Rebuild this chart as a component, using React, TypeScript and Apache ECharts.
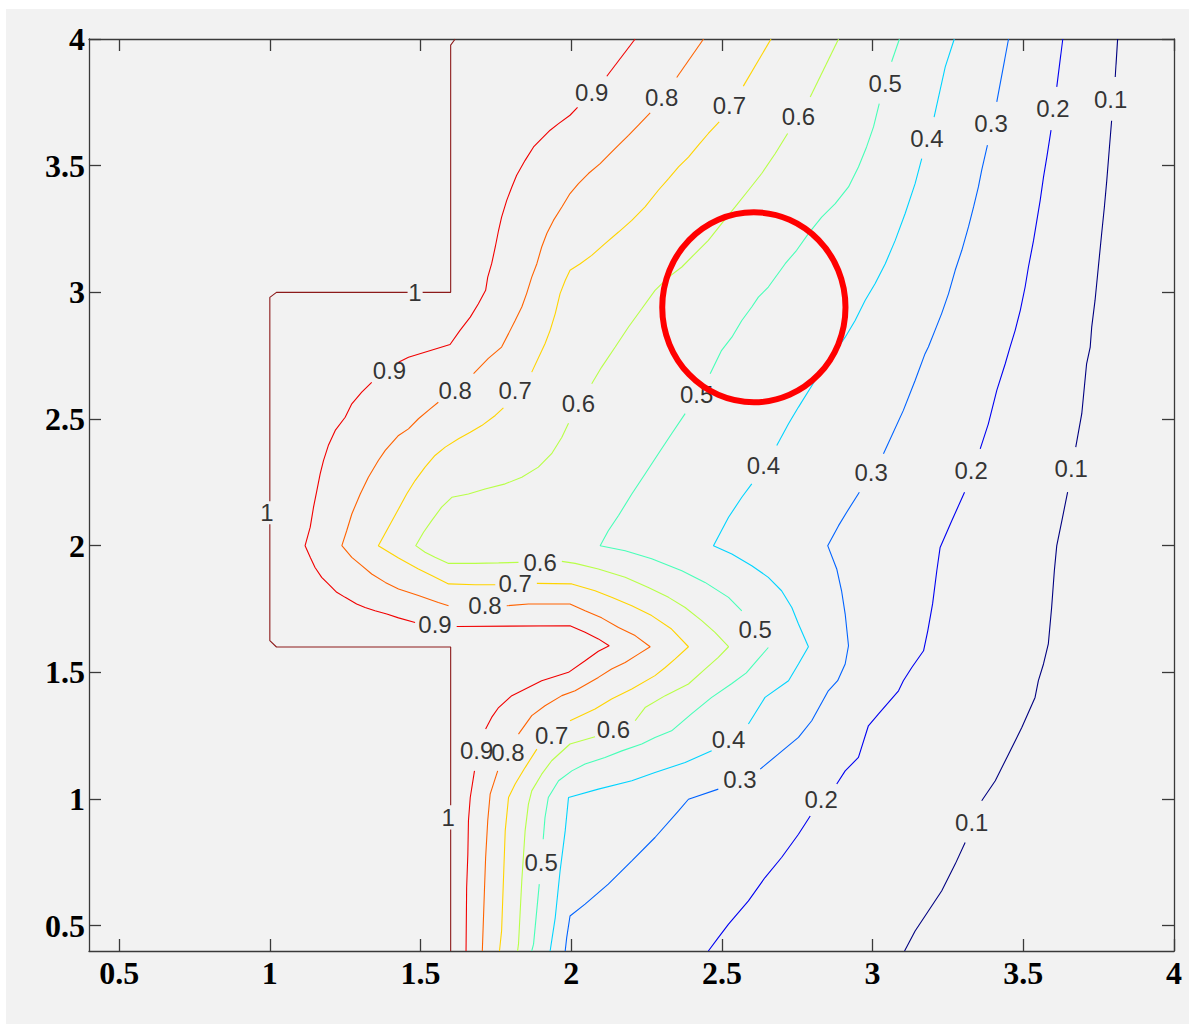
import React, { useEffect, useRef } from "react";
import * as echarts from "echarts";

// ---- axes ----
const xTicks = [0.5, 1, 1.5, 2, 2.5, 3, 3.5, 4];
const yTicks = [0.5, 1, 1.5, 2, 2.5, 3, 3.5, 4];
const axisMin = 0.4;
const axisMax = 4;

// ---- contour levels and jet colours ----
const levels = [0.1, 0.2, 0.3, 0.4, 0.5, 0.6, 0.7, 0.8, 0.9, 1];
const levelText = ["0.1", "0.2", "0.3", "0.4", "0.5", "0.6", "0.7", "0.8", "0.9", "1"];
const levelColors = ["#000080", "#0000f1", "#0063ff", "#00d4ff", "#47ffb8", "#b8ff47", "#ffd400", "#ff6300", "#f10000", "#8c1a1a"];

// ---- contour segments (x, y), broken where inline labels sit ----
const c100 = [
  [[1.615, 4.0], [1.6, 3.976], [1.6, 3.0], [1.507, 3.0]],
  [[1.457, 3.0], [1.022, 3.0], [1.0, 2.98], [1.0, 2.175]],
  [[1.0, 2.085], [1.0, 1.625], [1.022, 1.6], [1.6, 1.6], [1.6, 1.579], [1.6, 0.975]],
  [[1.6, 0.88], [1.6, 0.4]],
];
const c090 = [
  [[2.212, 4.0], [2.118, 3.853]],
  [[2.021, 3.73], [1.996, 3.699], [1.958, 3.666], [1.93, 3.64], [1.902, 3.607], [1.875, 3.574], [1.847, 3.521], [1.819, 3.462], [1.803, 3.416], [1.786, 3.363], [1.769, 3.297], [1.759, 3.245], [1.748, 3.179], [1.736, 3.113], [1.723, 3.06], [1.716, 3.008], [1.692, 2.955], [1.665, 2.902], [1.631, 2.85], [1.598, 2.794], [1.46, 2.744], [1.427, 2.724]],
  [[1.338, 2.645], [1.305, 2.606], [1.272, 2.56], [1.25, 2.507], [1.217, 2.455], [1.194, 2.395], [1.178, 2.336], [1.167, 2.283], [1.156, 2.217], [1.145, 2.152], [1.134, 2.073], [1.117, 2.0], [1.134, 1.954], [1.15, 1.914], [1.172, 1.875], [1.194, 1.849], [1.222, 1.816], [1.25, 1.796], [1.288, 1.77], [1.316, 1.756], [1.349, 1.743], [1.388, 1.73], [1.427, 1.715], [1.482, 1.697]],
  [[1.62, 1.681], [1.996, 1.684], [2.046, 1.658], [2.09, 1.632], [2.126, 1.605], [2.09, 1.583], [2.046, 1.546], [1.991, 1.5], [1.902, 1.467], [1.803, 1.408], [1.759, 1.361], [1.736, 1.322], [1.716, 1.276]],
  [[1.679, 1.111], [1.665, 1.006], [1.659, 0.914], [1.657, 0.782], [1.653, 0.65], [1.651, 0.4]],
];
const c080 = [
  [[2.439, 4.0], [2.35, 3.848]],
  [[2.262, 3.708], [2.223, 3.66], [2.19, 3.62], [2.157, 3.581], [2.123, 3.541], [2.096, 3.508], [2.057, 3.469], [2.024, 3.429], [1.996, 3.39], [1.969, 3.337], [1.941, 3.284], [1.919, 3.232], [1.902, 3.179], [1.886, 3.113], [1.869, 3.06], [1.852, 2.995], [1.836, 2.942], [1.814, 2.889], [1.792, 2.837], [1.769, 2.784], [1.725, 2.739], [1.676, 2.679]],
  [[1.559, 2.566], [1.532, 2.54], [1.493, 2.501], [1.46, 2.461], [1.427, 2.435], [1.383, 2.376], [1.36, 2.336], [1.327, 2.27], [1.3, 2.204], [1.272, 2.125], [1.255, 2.059], [1.239, 2.0], [1.272, 1.954], [1.305, 1.921], [1.338, 1.888], [1.383, 1.855], [1.427, 1.829], [1.493, 1.803], [1.559, 1.776], [1.593, 1.763]],
  [[1.786, 1.763], [1.858, 1.77], [1.996, 1.77], [2.046, 1.743], [2.101, 1.715], [2.157, 1.677], [2.212, 1.645], [2.262, 1.601], [2.223, 1.572], [2.179, 1.539], [2.134, 1.513], [2.09, 1.48], [2.013, 1.427], [1.969, 1.408], [1.913, 1.368], [1.869, 1.329], [1.825, 1.256]],
  [[1.756, 1.111], [1.731, 1.019], [1.723, 0.914], [1.716, 0.769], [1.712, 0.637], [1.705, 0.4]],
];
const c070 = [
  [[2.663, 4.0], [2.571, 3.814]],
  [[2.491, 3.673], [2.455, 3.627], [2.422, 3.581], [2.389, 3.534], [2.356, 3.495], [2.323, 3.449], [2.289, 3.403], [2.245, 3.337], [2.201, 3.284], [2.157, 3.238], [2.112, 3.192], [2.068, 3.146], [2.03, 3.113], [1.996, 3.087], [1.98, 3.047], [1.963, 2.995], [1.947, 2.916], [1.93, 2.85], [1.913, 2.797], [1.869, 2.685]],
  [[1.775, 2.544], [1.748, 2.514], [1.703, 2.474], [1.665, 2.448], [1.626, 2.422], [1.582, 2.389], [1.548, 2.356], [1.515, 2.31], [1.482, 2.257], [1.454, 2.204], [1.427, 2.145], [1.36, 2.0], [1.427, 1.951], [1.493, 1.908], [1.537, 1.882], [1.593, 1.849], [1.681, 1.846], [1.748, 1.846]],
  [[1.886, 1.851], [2.002, 1.849], [2.079, 1.822], [2.134, 1.796], [2.201, 1.763], [2.267, 1.724], [2.333, 1.671], [2.389, 1.601], [2.345, 1.553], [2.312, 1.519], [2.278, 1.487], [2.201, 1.434], [2.134, 1.395], [2.079, 1.355], [1.996, 1.309]],
  [[1.886, 1.197], [1.847, 1.124], [1.814, 1.059], [1.792, 1.006], [1.781, 0.874], [1.775, 0.677], [1.769, 0.48], [1.762, 0.4]],
];
const c060 = [
  [[2.887, 4.0], [2.793, 3.771]],
  [[2.718, 3.627], [2.677, 3.548], [2.632, 3.469], [2.588, 3.403], [2.544, 3.337], [2.499, 3.271], [2.455, 3.205], [2.411, 3.153], [2.367, 3.1], [2.323, 3.06], [2.278, 3.008], [2.234, 2.935], [2.19, 2.863], [2.146, 2.784], [2.101, 2.705], [2.068, 2.639]],
  [[1.991, 2.483], [1.969, 2.428], [1.935, 2.363], [1.891, 2.31], [1.836, 2.27], [1.781, 2.244], [1.714, 2.224], [1.659, 2.204], [1.604, 2.191], [1.57, 2.152], [1.537, 2.099], [1.51, 2.053], [1.484, 2.0], [1.515, 1.974], [1.548, 1.954], [1.593, 1.93], [1.681, 1.93], [1.759, 1.932], [1.825, 1.934]],
  [[1.969, 1.938], [2.013, 1.93], [2.09, 1.908], [2.179, 1.875], [2.256, 1.835], [2.323, 1.796], [2.378, 1.756], [2.433, 1.704], [2.477, 1.658], [2.522, 1.601], [2.488, 1.559], [2.444, 1.513], [2.389, 1.454], [2.312, 1.408], [2.245, 1.361], [2.212, 1.309]],
  [[2.079, 1.246], [1.996, 1.217], [1.935, 1.151], [1.902, 1.098], [1.869, 1.032], [1.858, 0.98], [1.847, 0.874], [1.836, 0.677], [1.825, 0.427], [1.822, 0.4]],
];
const c050 = [
  [[3.089, 4.0], [3.063, 3.91]],
  [[3.022, 3.745], [3.003, 3.653], [2.98, 3.574], [2.953, 3.495], [2.92, 3.416], [2.876, 3.35], [2.831, 3.297], [2.787, 3.232], [2.748, 3.166], [2.71, 3.113], [2.654, 3.021], [2.621, 2.981], [2.599, 2.942], [2.566, 2.889], [2.533, 2.823], [2.499, 2.771], [2.461, 2.679]],
  [[2.378, 2.521], [2.333, 2.442], [2.289, 2.363], [2.245, 2.283], [2.201, 2.204], [2.157, 2.119], [2.123, 2.059], [2.096, 2.0], [2.179, 1.98], [2.267, 1.948], [2.367, 1.901], [2.444, 1.855], [2.522, 1.796], [2.566, 1.743]],
  [[2.654, 1.598], [2.621, 1.553], [2.581, 1.498], [2.532, 1.455], [2.465, 1.4], [2.399, 1.336], [2.333, 1.269], [2.278, 1.243], [2.234, 1.217], [2.168, 1.19], [2.112, 1.164], [2.046, 1.138], [2.002, 1.111], [1.958, 1.072], [1.924, 1.006], [1.913, 0.927], [1.907, 0.841]],
  [[1.894, 0.664], [1.875, 0.427], [1.869, 0.4]],
];
const c040 = [
  [[3.271, 4.0], [3.241, 3.89], [3.204, 3.692]],
  [[3.163, 3.528], [3.141, 3.429], [3.108, 3.311], [3.075, 3.205], [3.042, 3.113], [3.008, 3.034], [2.975, 2.968], [2.942, 2.889], [2.909, 2.823], [2.86, 2.739], [2.809, 2.652], [2.754, 2.547], [2.721, 2.481], [2.682, 2.395]],
  [[2.599, 2.244], [2.566, 2.191], [2.522, 2.112], [2.472, 2.0], [2.533, 1.967], [2.599, 1.921], [2.654, 1.875], [2.698, 1.822], [2.732, 1.756], [2.754, 1.691], [2.787, 1.601], [2.754, 1.533], [2.721, 1.467], [2.643, 1.401], [2.588, 1.296]],
  [[2.466, 1.19], [2.378, 1.144], [2.278, 1.105], [2.201, 1.072], [2.09, 1.039], [1.991, 1.006], [1.98, 0.874], [1.963, 0.716], [1.947, 0.532], [1.93, 0.4]],
];
const c030 = [
  [[3.451, 4.0], [3.412, 3.752]],
  [[3.381, 3.581], [3.362, 3.482], [3.351, 3.416], [3.335, 3.337], [3.318, 3.258], [3.296, 3.166], [3.274, 3.087], [3.252, 2.995], [3.229, 2.916], [3.207, 2.85], [3.185, 2.784], [3.174, 2.758], [3.141, 2.652], [3.102, 2.534], [3.036, 2.363]],
  [[2.956, 2.211], [2.914, 2.132], [2.887, 2.079], [2.851, 2.0], [2.881, 1.908], [2.897, 1.822], [2.909, 1.73], [2.92, 1.605], [2.909, 1.533], [2.884, 1.467], [2.853, 1.427], [2.798, 1.309], [2.754, 1.243], [2.687, 1.177], [2.627, 1.118]],
  [[2.488, 1.039], [2.389, 0.999], [2.356, 0.953], [2.278, 0.848], [2.201, 0.756], [2.123, 0.664], [2.046, 0.585], [1.996, 0.538], [1.985, 0.453], [1.98, 0.4]],
];
const c020 = [
  [[3.631, 4.0], [3.611, 3.811]],
  [[3.592, 3.64], [3.578, 3.534], [3.567, 3.455], [3.556, 3.363], [3.545, 3.284], [3.534, 3.205], [3.517, 3.1], [3.506, 3.021], [3.49, 2.929], [3.473, 2.85], [3.456, 2.784], [3.44, 2.718], [3.412, 2.613], [3.384, 2.481], [3.357, 2.382]],
  [[3.305, 2.211], [3.263, 2.099], [3.224, 1.993], [3.213, 1.901], [3.199, 1.77], [3.183, 1.664], [3.169, 1.585], [3.13, 1.519], [3.102, 1.467], [3.086, 1.427], [3.019, 1.335], [2.986, 1.289], [2.953, 1.164], [2.909, 1.111], [2.881, 1.059]],
  [[2.793, 0.933], [2.754, 0.861], [2.698, 0.769], [2.643, 0.69], [2.588, 0.598], [2.522, 0.506], [2.488, 0.453], [2.455, 0.4]],
];
const c010 = [
  [[3.813, 4.0], [3.805, 3.85]],
  [[3.793, 3.677], [3.785, 3.561], [3.777, 3.442], [3.769, 3.337], [3.76, 3.232], [3.749, 3.1], [3.738, 2.968], [3.727, 2.863], [3.722, 2.784], [3.71, 2.718], [3.694, 2.521], [3.674, 2.389]],
  [[3.647, 2.211], [3.628, 2.099], [3.611, 2.0], [3.603, 1.901], [3.594, 1.756], [3.583, 1.612], [3.567, 1.533], [3.55, 1.467], [3.539, 1.401], [3.495, 1.282], [3.451, 1.177], [3.407, 1.072], [3.362, 0.993]],
  [[3.307, 0.828], [3.274, 0.743], [3.229, 0.637], [3.185, 0.558], [3.141, 0.479], [3.106, 0.4]],
];

// ---- inline label anchors (x, y) ----
const lab100 = [[1.481, 3.0], [0.99, 2.13], [1.592, 0.927]];
const lab090 = [[2.068, 3.787], [1.397, 2.692], [1.548, 1.688], [1.686, 1.19]];
const lab080 = [[2.3, 3.771], [1.615, 2.613], [1.714, 1.763], [1.79, 1.184]];
const lab070 = [[2.525, 3.739], [1.814, 2.613], [1.814, 1.849], [1.935, 1.25]];
const lab060 = [[2.754, 3.695], [2.024, 2.56], [1.897, 1.934], [2.14, 1.276]];
const lab050 = [[3.042, 3.824], [2.416, 2.597], [2.61, 1.671], [1.9, 0.749]];
const lab040 = [[3.18, 3.607], [2.638, 2.316], [2.522, 1.236]];
const lab030 = [[3.393, 3.666], [2.995, 2.29], [2.56, 1.078]];
const lab020 = [[3.598, 3.726], [3.327, 2.297], [2.829, 0.999]];
const lab010 = [[3.79, 3.761], [3.659, 2.303], [3.329, 0.907]];

// ---- highlighted region (ellipse in data units) ----
const markCenter = [2.606, 2.941];
const markRadius = [0.304, 0.375];

const segmentsByLevel = [c010, c020, c030, c040, c050, c060, c070, c080, c090, c100];
const labelsByLevel = [lab010, lab020, lab030, lab040, lab050, lab060, lab070, lab080, lab090, lab100];

export default function App() {
  const ref = useRef<HTMLDivElement>(null);

  useEffect(() => {
    if (!ref.current) return;
    const chart = echarts.init(ref.current, null, { renderer: "svg" });

    const series: any[] = [];
    levels.forEach((lv, i) => {
      segmentsByLevel[i].forEach((seg, j) => {
        series.push({
          type: "line",
          name: `c${lv}-${j}`,
          data: seg,
          showSymbol: false,
          symbol: "none",
          silent: true,
          clip: true,
          lineStyle: { color: levelColors[i], width: 1.1 },
          emphasis: { disabled: true },
          z: 2,
        });
      });
    });

    const labelData: any[] = [];
    levels.forEach((lv, i) => {
      labelsByLevel[i].forEach((p) => {
        labelData.push({ value: p, name: levelText[i] });
      });
    });
    series.push({
      type: "scatter",
      data: labelData,
      symbolSize: 1,
      silent: true,
      itemStyle: { color: "rgba(0,0,0,0)" },
      label: {
        show: true,
        position: "inside",
        formatter: "{b}",
        color: "#000000",
        fontSize: 24,
        fontFamily: "'Liberation Sans', Arial, sans-serif",
      },
      labelLayout: { hideOverlap: false },
      emphasis: { disabled: true },
      z: 5,
    });

    const axisLineStyle = { color: "#3a3a3a", width: 1.3 };
    const tickLabelStyle = {
      fontFamily: "'Liberation Serif', 'Times New Roman', serif",
      fontWeight: "bold" as const,
      fontSize: 32,
      color: "#000000",
    };

    chart.setOption({
      animation: false,
      backgroundColor: "#f2f2f2",
      grid: { left: 83, top: 30, right: 15, bottom: 73, containLabel: false },
      xAxis: [
        {
          type: "value",
          min: axisMin,
          max: axisMax,
          position: "bottom",
          axisLine: { show: true, onZero: false, lineStyle: axisLineStyle },
          axisTick: { show: true, inside: true, length: 12, customValues: xTicks, lineStyle: axisLineStyle },
          axisLabel: { show: true, customValues: xTicks, margin: 6, formatter: (v: number) => String(v), ...tickLabelStyle },
          splitLine: { show: false },
        },
        {
          type: "value",
          min: axisMin,
          max: axisMax,
          position: "top",
          axisLine: { show: true, onZero: false, lineStyle: axisLineStyle },
          axisTick: { show: true, inside: true, length: 12, customValues: xTicks, lineStyle: axisLineStyle },
          axisLabel: { show: false },
          splitLine: { show: false },
        },
      ],
      yAxis: [
        {
          type: "value",
          min: axisMin,
          max: axisMax,
          position: "left",
          axisLine: { show: true, onZero: false, lineStyle: axisLineStyle },
          axisTick: { show: true, inside: true, length: 12, customValues: yTicks, lineStyle: axisLineStyle },
          axisLabel: { show: true, customValues: yTicks, margin: 4, formatter: (v: number) => String(v), ...tickLabelStyle },
          splitLine: { show: false },
        },
        {
          type: "value",
          min: axisMin,
          max: axisMax,
          position: "right",
          axisLine: { show: true, onZero: false, lineStyle: axisLineStyle },
          axisTick: { show: true, inside: true, length: 12, customValues: yTicks, lineStyle: axisLineStyle },
          axisLabel: { show: false },
          splitLine: { show: false },
        },
      ],
      series,
    });

    const c = chart.convertToPixel({ xAxisIndex: 0, yAxisIndex: 0 }, markCenter) as number[];
    const r = chart.convertToPixel({ xAxisIndex: 0, yAxisIndex: 0 }, [
      markCenter[0] + markRadius[0],
      markCenter[1] + markRadius[1],
    ]) as number[];
    chart.setOption({
      graphic: [
        {
          type: "ellipse",
          shape: { cx: c[0], cy: c[1], rx: Math.abs(r[0] - c[0]), ry: Math.abs(c[1] - r[1]) },
          style: { fill: "none", stroke: "#ff0000", lineWidth: 6 },
          silent: true,
          z: 100,
        },
      ],
    });

    return () => chart.dispose();
  }, []);

  return (
    <div style={{ position: "absolute", left: 0, top: 0, width: 1189, height: 1024, background: "#ffffff" }}>
      <div ref={ref} style={{ position: "absolute", left: 6, top: 9, width: 1183, height: 1015 }} />
    </div>
  );
}
